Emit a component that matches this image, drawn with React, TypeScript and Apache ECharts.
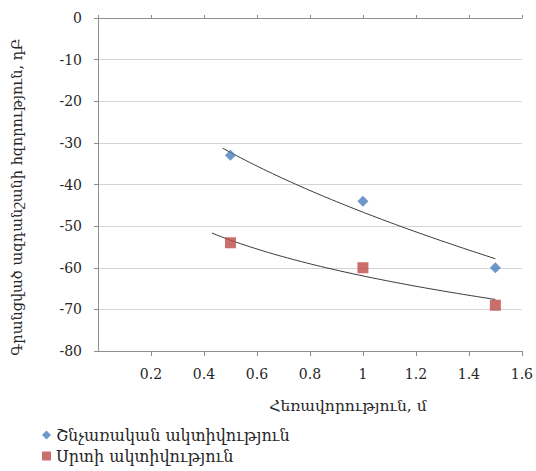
import React, { useEffect, useRef } from "react";
import * as echarts from "echarts";

const distances = [0.5, 1.0, 1.5];
const respiratory = [-33, -44, -60];
const cardiac = [-54, -60, -69];
const seriesNames = ["Շնչառական ակտիվություն", "Սրտի ակտիվություն"];
const xTitle = "Հեռավորություն, մ";
const yTitle = "Գրանցված ազդանշանի հզորություն, դԲ";
const trendStartResp = 0.47;
const trendStartCard = 0.43;
const trendEnd = 1.5;

const FONT = "'DejaVu Serif', 'DejaVu Sans', serif";

function powerFit(xs: number[], ys: number[]) {
  const lx = xs.map((v) => Math.log(v));
  const ly = ys.map((v) => Math.log(-v));
  const n = xs.length;
  const mx = lx.reduce((s, v) => s + v, 0) / n;
  const my = ly.reduce((s, v) => s + v, 0) / n;
  let sxy = 0;
  let sxx = 0;
  for (let i = 0; i < n; i++) {
    sxy += (lx[i] - mx) * (ly[i] - my);
    sxx += (lx[i] - mx) * (lx[i] - mx);
  }
  const b = sxy / sxx;
  const a = Math.exp(my - b * mx);
  return (x: number) => -a * Math.pow(x, b);
}

function trendPoints(xs: number[], ys: number[], from: number, to: number) {
  const f = powerFit(xs, ys);
  const pts: number[][] = [];
  const steps = 60;
  for (let i = 0; i <= steps; i++) {
    const x = from + ((to - from) * i) / steps;
    pts.push([x, f(x)]);
  }
  return pts;
}

export default function App() {
  const ref = useRef<HTMLDivElement>(null);
  useEffect(() => {
    if (!ref.current) return;
    const chart = echarts.init(ref.current, null, { renderer: "svg" });
    const axisColor = "#8e8e8e";
    const textColor = "#262626";
    chart.setOption({
      animation: false,
      backgroundColor: "#ffffff",
      textStyle: { fontFamily: FONT },
      grid: { left: 98, right: 11, top: 18, bottom: 120, containLabel: false },
      legend: {
        orient: "vertical",
        left: 42,
        top: 427,
        padding: 0,
        itemGap: 5,
        itemWidth: 9,
        itemHeight: 9,
        data: [
          { name: seriesNames[0], icon: "diamond" },
          { name: seriesNames[1], icon: "rect" },
        ],
        textStyle: { fontFamily: FONT, fontSize: 16, color: textColor },
      },
      xAxis: [
        {
          type: "value",
          position: "bottom",
          min: 0,
          max: 1.6,
          interval: 0.2,
          axisLine: { show: true, onZero: false, lineStyle: { color: axisColor, width: 1 } },
          axisTick: { show: true, length: 5, lineStyle: { color: axisColor } },
          axisLabel: {
            showMinLabel: false,
            margin: 16,
            fontFamily: FONT,
            fontSize: 14,
            color: textColor,
            formatter: (v: number) => String(Math.round(v * 10) / 10),
          },
          splitLine: { show: false },
        },
        {
          type: "value",
          position: "top",
          min: 0,
          max: 1.6,
          interval: 0.2,
          axisLine: { show: true, onZero: false, lineStyle: { color: axisColor, width: 1 } },
          axisTick: { show: true, length: 3, lineStyle: { color: axisColor } },
          axisLabel: { show: false },
          splitLine: { show: false },
        },
      ],
      yAxis: {
        type: "value",
        min: -80,
        max: 0,
        interval: 10,
        axisLine: { show: true, lineStyle: { color: axisColor, width: 1 } },
        axisTick: { show: true, length: 4, lineStyle: { color: axisColor } },
        axisLabel: { margin: 16, fontFamily: FONT, fontSize: 14, color: textColor },
        splitLine: { show: true, lineStyle: { color: "#d4d4d4", width: 1 } },
      },
      graphic: [
        {
          type: "text",
          x: 17,
          y: 197,
          rotation: Math.PI / 2,
          style: {
            text: yTitle,
            fontFamily: FONT,
            fontSize: 14.5,
            fill: textColor,
            align: "center",
            verticalAlign: "middle",
          },
        },
        {
          type: "text",
          x: 348,
          y: 406,
          style: {
            text: xTitle,
            fontFamily: FONT,
            fontSize: 15.5,
            fill: textColor,
            align: "center",
            verticalAlign: "middle",
          },
        },
      ],
      series: [
        {
          name: "trend-resp",
          type: "line",
          data: trendPoints(distances, respiratory, trendStartResp, trendEnd),
          showSymbol: false,
          symbol: "none",
          silent: true,
          lineStyle: { color: "#3a3a3a", width: 1 },
          z: 3,
        },
        {
          name: "trend-card",
          type: "line",
          data: trendPoints(distances, cardiac, trendStartCard, trendEnd),
          showSymbol: false,
          symbol: "none",
          silent: true,
          lineStyle: { color: "#3a3a3a", width: 1 },
          z: 3,
        },
        {
          name: seriesNames[0],
          type: "scatter",
          symbol: "diamond",
          symbolSize: 11,
          itemStyle: { color: "#4a7ebb" },
          data: distances.map((x, i) => [x, respiratory[i]]),
          z: 4,
        },
        {
          name: seriesNames[1],
          type: "scatter",
          symbol: "rect",
          symbolSize: 11,
          itemStyle: { color: "#be4b48" },
          data: distances.map((x, i) => [x, cardiac[i]]),
          z: 4,
        },
      ],
    });
    return () => chart.dispose();
  }, []);
  return <div ref={ref} style={{ width: 536, height: 471, position: "absolute", left: 0, top: 0 }} />;
}
